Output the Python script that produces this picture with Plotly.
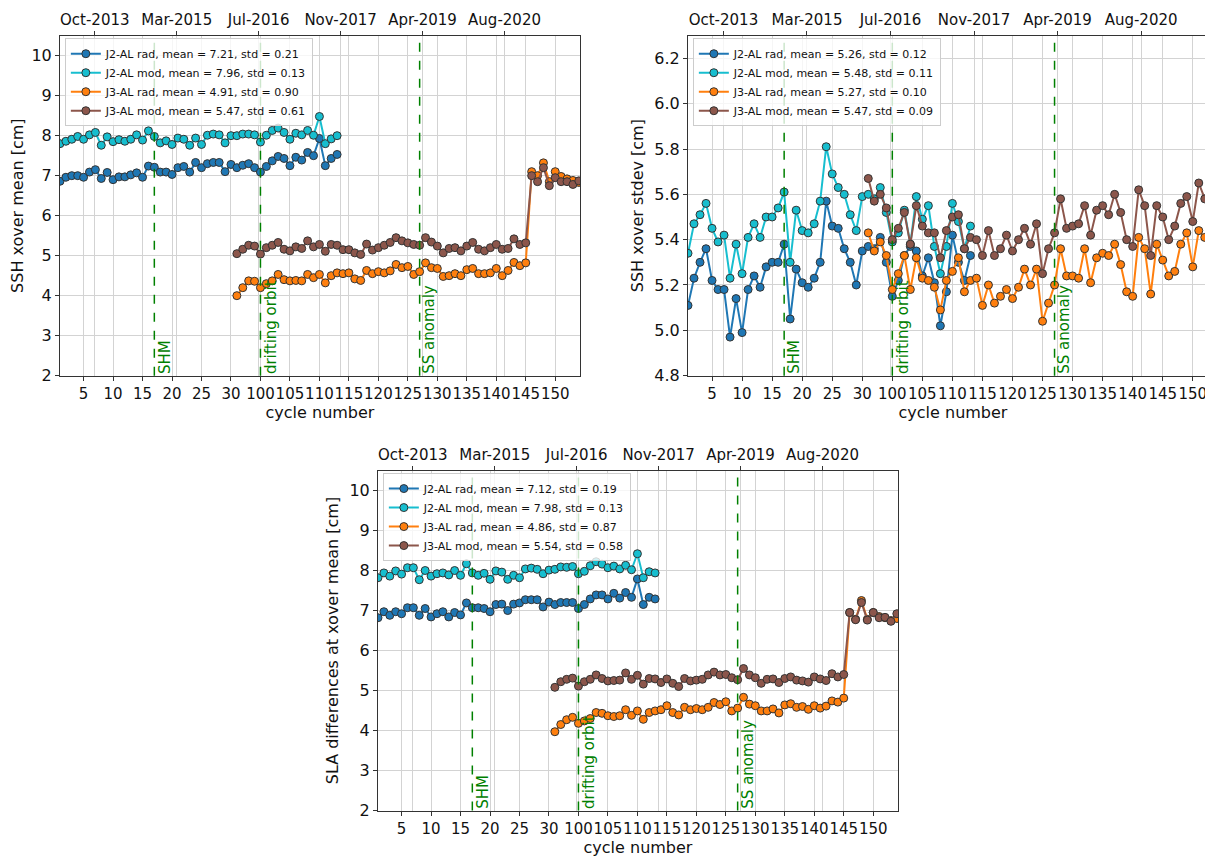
import plotly.graph_objects as go

# x positions along the plot (one step per cycle)
j2_pos = list(range(1, 49))
j3_pos = list(range(31, 90))

tick_pos = list(range(5, 90, 5))
tick_text = ["5", "10", "15", "20", "25", "30", "100", "105", "110", "115", "120",
             "125", "130", "135", "140", "145", "150"]
date_pos = [6.9, 20.8, 34.7, 48.6, 62.5, 76.4]
date_text = ["Oct-2013", "Mar-2015", "Jul-2016", "Nov-2017", "Apr-2019", "Aug-2020"]

event_pos = [17, 35, 62]
event_text = ["SHM", "drifting orbit", "SS anomaly"]

# panel 1: SSH xover mean
p1_j2_rad = [6.86, 6.96, 7.0, 7.0, 6.96, 7.09, 7.15, 6.93, 7.08, 6.9, 6.97, 6.97, 7.02, 7.07, 6.96, 7.24,
             7.21, 7.09, 7.09, 7.03, 7.2, 7.23, 7.09, 7.33, 7.2, 7.3, 7.33, 7.33, 7.1, 7.28, 7.2, 7.26,
             7.3, 7.2, 7.09, 7.23, 7.37, 7.48, 7.43, 7.25, 7.46, 7.39, 7.58, 7.5, 7.93, 7.25, 7.43, 7.53]
p1_j2_mod = [7.8, 7.86, 7.91, 7.98, 7.91, 8.02, 8.08, 7.76, 7.97, 7.85, 7.9, 7.86, 7.91, 8.02, 7.89, 8.12,
             7.98, 7.82, 7.87, 7.78, 7.94, 7.91, 7.76, 7.94, 7.78, 8.01, 8.04, 8.02, 7.82, 8.0, 8.0, 8.04,
             8.04, 8.02, 7.84, 8.01, 8.13, 8.19, 8.08, 7.91, 8.06, 8.02, 8.13, 8.01, 8.48, 7.8, 7.92, 8.0]
p1_j3_rad = [4.0, 4.2, 4.37, 4.36, 4.2, 4.3, 4.37, 4.53, 4.4, 4.37, 4.38, 4.37, 4.53, 4.45, 4.53, 4.32,
             4.5, 4.57, 4.55, 4.57, 4.42, 4.38, 4.63, 4.55, 4.6, 4.57, 4.62, 4.78, 4.7, 4.73, 4.53, 4.6,
             4.82, 4.7, 4.68, 4.48, 4.5, 4.55, 4.5, 4.65, 4.68, 4.55, 4.55, 4.57, 4.68, 4.5, 4.63, 4.83,
             4.75, 4.82, 7.1, 7.0, 7.32, 6.85, 7.1, 6.98, 6.92, 6.88, 6.83]
p1_j3_mod = [5.05, 5.16, 5.26, 5.24, 5.04, 5.2, 5.26, 5.33, 5.16, 5.12, 5.22, 5.18, 5.37, 5.22, 5.28, 5.11,
             5.28, 5.26, 5.15, 5.15, 5.07, 5.03, 5.29, 5.14, 5.2, 5.26, 5.33, 5.45, 5.37, 5.32, 5.28, 5.26,
             5.45, 5.34, 5.24, 5.07, 5.18, 5.2, 5.12, 5.24, 5.33, 5.16, 5.12, 5.2, 5.28, 5.16, 5.18, 5.42,
             5.28, 5.32, 7.0, 6.85, 7.2, 6.75, 6.95, 6.85, 6.85, 6.78, 6.87]

# panel 2: SSH xover stdev
p2_j2_rad = [5.11, 5.23, 5.30, 5.36, 5.22, 5.18, 5.18, 4.97, 5.14, 4.99, 5.18, 5.24, 5.19, 5.28, 5.30, 5.30,
             5.38, 5.05, 5.27, 5.21, 5.19, 5.23, 5.30, 5.57, 5.46, 5.45, 5.36, 5.30, 5.20, 5.35, 5.37, 5.36,
             5.41, 5.30, 5.15, 5.22, 5.33, 5.37, 5.35, 5.24, 5.32, 5.21, 5.02, 5.17, 5.42, 5.30, 5.22, 5.33]
p2_j2_mod = [5.34, 5.47, 5.51, 5.56, 5.45, 5.39, 5.42, 5.23, 5.38, 5.25, 5.41, 5.47, 5.41, 5.50, 5.50, 5.54,
             5.61, 5.30, 5.53, 5.44, 5.43, 5.47, 5.57, 5.81, 5.69, 5.63, 5.60, 5.51, 5.44, 5.59, 5.60, 5.58,
             5.63, 5.52, 5.39, 5.43, 5.53, 5.38, 5.59, 5.49, 5.55, 5.37, 5.25, 5.37, 5.56, 5.48, 5.36, 5.46]
p2_j3_rad = [5.43, 5.35, 5.39, 5.33, 5.18, 5.25, 5.33, 5.18, 5.32, 5.23, 5.22, 5.19, 5.09, 5.22, 5.26, 5.32,
             5.17, 5.22, 5.23, 5.11, 5.20, 5.12, 5.15, 5.18, 5.14, 5.19, 5.27, 5.20, 5.27, 5.04, 5.12, 5.20,
             5.36, 5.24, 5.24, 5.23, 5.36, 5.21, 5.32, 5.34, 5.33, 5.38, 5.29, 5.17, 5.15, 5.41, 5.36, 5.16,
             5.38, 5.31, 5.24, 5.26, 5.38, 5.43, 5.28, 5.44, 5.41, 5.50, 5.32]
p2_j3_mod = [5.67, 5.57, 5.60, 5.54, 5.40, 5.45, 5.52, 5.38, 5.55, 5.46, 5.43, 5.43, 5.32, 5.44, 5.50, 5.51,
             5.36, 5.41, 5.40, 5.33, 5.44, 5.33, 5.36, 5.42, 5.35, 5.40, 5.45, 5.38, 5.47, 5.25, 5.36, 5.43,
             5.58, 5.45, 5.46, 5.47, 5.55, 5.42, 5.53, 5.55, 5.51, 5.60, 5.52, 5.40, 5.37, 5.62, 5.55, 5.33,
             5.55, 5.50, 5.40, 5.46, 5.56, 5.59, 5.48, 5.65, 5.58, 5.66, 5.52]

# panel 3: SLA differences at xover mean
p3_j2_rad = [6.82, 6.97, 6.88, 6.97, 6.92, 7.07, 7.07, 6.88, 7.05, 6.84, 6.92, 6.97, 6.84, 6.95, 6.89, 7.19,
             7.07, 7.07, 7.05, 6.97, 7.15, 7.16, 7.0, 7.16, 7.19, 7.27, 7.27, 7.27, 7.09, 7.21, 7.15, 7.2,
             7.2, 7.2, 7.05, 7.15, 7.29, 7.39, 7.39, 7.29, 7.43, 7.31, 7.45, 7.33, 7.79, 7.15, 7.33, 7.29]
p3_j2_mod = [7.82, 7.94, 7.86, 7.99, 7.91, 8.07, 8.07, 7.77, 8.0, 7.86, 7.92, 7.94, 7.89, 8.0, 7.88, 8.17,
             7.94, 7.88, 7.93, 7.78, 7.99, 7.96, 7.78, 7.88, 7.82, 8.04, 8.06, 8.03, 7.92, 8.01, 8.03, 8.09,
             8.08, 8.1, 7.92, 7.98, 8.12, 8.22, 8.16, 8.07, 8.11, 8.04, 8.13, 8.02, 8.42, 7.82, 7.97, 7.94]
p3_j3_rad = [3.97, 4.15, 4.27, 4.33, 4.18, 4.24, 4.3, 4.45, 4.43, 4.37, 4.35, 4.37, 4.52, 4.38, 4.49, 4.28,
             4.45, 4.49, 4.52, 4.62, 4.45, 4.39, 4.58, 4.52, 4.55, 4.52, 4.58, 4.7, 4.65, 4.72, 4.49, 4.56,
             4.83, 4.66, 4.62, 4.49, 4.49, 4.54, 4.44, 4.64, 4.67, 4.58, 4.6, 4.53, 4.62, 4.56, 4.61, 4.74,
             4.71, 4.81, 6.95, 6.78, 7.25, 6.78, 6.95, 6.85, 6.82, 6.75, 6.8]
p3_j3_mod = [5.08, 5.22, 5.28, 5.31, 5.11, 5.22, 5.28, 5.39, 5.3, 5.24, 5.25, 5.26, 5.44, 5.28, 5.38, 5.16,
             5.3, 5.29, 5.2, 5.29, 5.18, 5.1, 5.3, 5.24, 5.26, 5.28, 5.39, 5.46, 5.39, 5.4, 5.32, 5.27,
             5.55, 5.39, 5.32, 5.18, 5.28, 5.29, 5.2, 5.3, 5.34, 5.26, 5.24, 5.21, 5.34, 5.29, 5.25, 5.42,
             5.34, 5.4, 6.95, 6.77, 7.2, 6.76, 6.95, 6.82, 6.83, 6.73, 6.92]

W, H = 1213, 856
colors = ["#1f77b4", "#17becf", "#ff7f0e", "#8c564b"]
names = ["J2-AL rad", "J2-AL mod", "J3-AL rad", "J3-AL mod"]

panels = [
    dict(box=(52, 572, 28, 372), yr=[2, 10.5], dt=1, fmt="d", yt="SSH xover mean [cm]",
         data=[p1_j2_rad, p1_j2_mod, p1_j3_rad, p1_j3_mod],
         stats=[(7.21, 0.21), (7.96, 0.13), (4.91, 0.90), (5.47, 0.61)]),
    dict(box=(680, 1210, 28, 372), yr=[4.8, 6.3], dt=0.2, fmt=".1f", yt="SSH xover stdev [cm]",
         data=[p2_j2_rad, p2_j2_mod, p2_j3_rad, p2_j3_mod],
         stats=[(5.26, 0.12), (5.48, 0.11), (5.27, 0.10), (5.47, 0.09)]),
    dict(box=(370, 890, 468, 812), yr=[2, 10.5], dt=1, fmt="d", yt="SLA differences at xover mean [cm]",
         data=[p3_j2_rad, p3_j2_mod, p3_j3_rad, p3_j3_mod],
         stats=[(7.12, 0.19), (7.98, 0.13), (4.86, 0.87), (5.54, 0.58)]),
]


def ref(letter, n):
    return letter if n == 1 else f"{letter}{n}"


fig = go.Figure()
layout = {}
annotations = []
shapes = []
xr = [1, 89.2]

for k, p in enumerate(panels):
    x0, x1, y0, y1 = p["box"]
    dx = [x0 / W, x1 / W]
    dy = [1 - y1 / H, 1 - y0 / H]
    xb = ref("x", 2 * k + 1)
    xt = ref("x", 2 * k + 2)
    yn = ref("y", k + 1)
    leg = ref("legend", k + 1)
    axis_style = dict(showline=True, linecolor="#333", linewidth=1, mirror=True,
                      gridcolor="#d3d3d3", ticks="outside", tickcolor="#333", ticklen=4,
                      tickfont=dict(size=15, color="#111"), zeroline=False, tickangle=0)
    layout["xaxis" + xb[1:]] = dict(domain=dx, range=xr, anchor=yn, tickvals=tick_pos, ticktext=tick_text,
                                    title=dict(text="cycle number", font=dict(size=16), standoff=0), **axis_style)
    layout["xaxis" + xt[1:]] = dict(range=xr, overlaying=xb, side="top", anchor=yn, tickvals=date_pos,
                                    ticktext=date_text, **{**axis_style, "mirror": False, "showline": False})
    layout["yaxis" + yn[1:]] = dict(domain=dy, range=p["yr"], anchor=xb, dtick=p["dt"], tickformat=p["fmt"],
                                    title=dict(text=p["yt"], font=dict(size=16), standoff=6),
                                    **{**axis_style, "tickfont": dict(size=16, color="#111")})
    layout[leg] = dict(x=dx[0] + 0.004, y=dy[1] - 0.003, xanchor="left", yanchor="top",
                       bgcolor="rgba(255,255,255,0.8)", bordercolor="#ccc", borderwidth=1,
                       font=dict(size=11, color="#111"), tracegroupgap=0, itemwidth=30)
    for i in range(4):
        xs = j2_pos if i < 2 else j3_pos
        m, s = p["stats"][i]
        fig.add_trace(go.Scatter(
            x=xs, y=p["data"][i], mode="lines+markers", xaxis=xb, yaxis=yn, legend=leg,
            name=f"{names[i]}, mean = {m:.2f}, std = {s:.2f}",
            line=dict(color=colors[i], width=2),
            marker=dict(size=8, color=colors[i], line=dict(color="#333", width=1))))
    fig.add_trace(go.Scatter(x=[None], y=[None], xaxis=xt, yaxis=yn, showlegend=False))
    for ev, txt in zip(event_pos, event_text):
        shapes.append(dict(type="line", xref=xb, yref=f"{yn} domain", x0=ev, x1=ev, y0=0, y1=1,
                           line=dict(color="green", width=1.5, dash="dash")))
        annotations.append(dict(x=ev, y=p["yr"][0], xref=xb, yref=yn, text=txt, textangle=-90,
                                showarrow=False, xanchor="left", yanchor="bottom", xshift=-1,
                                font=dict(size=15, color="green")))

fig.update_layout(width=W, height=H, margin=dict(l=0, r=0, t=0, b=0),
                  plot_bgcolor="white", paper_bgcolor="white",
                  font=dict(family="DejaVu Sans", color="#111"),
                  annotations=annotations, shapes=shapes, **layout)
fig.write_html("out.html")
